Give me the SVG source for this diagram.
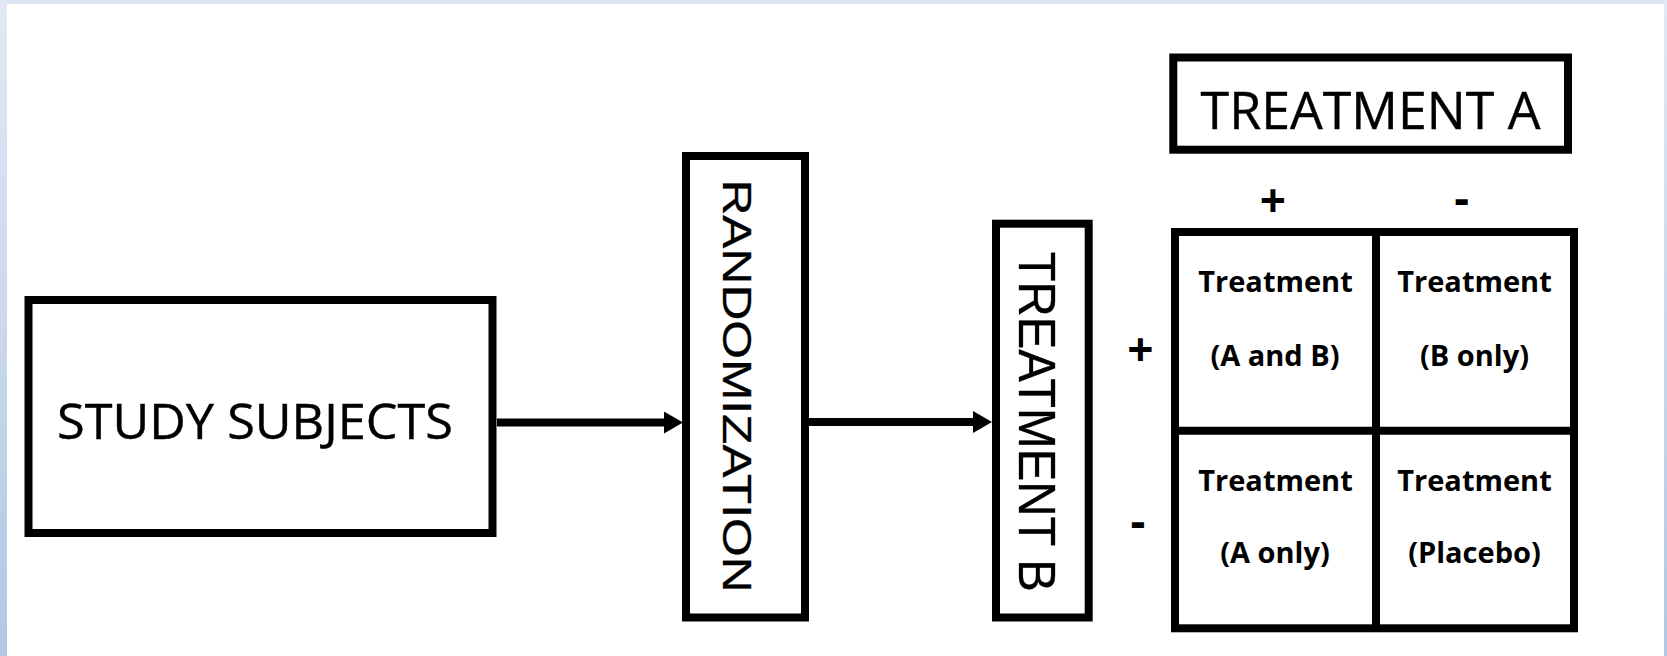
<svg xmlns="http://www.w3.org/2000/svg" width="1667" height="656" viewBox="0 0 1667 656">
  <defs>
    <linearGradient id="edgeShade" x1="0" y1="0" x2="0" y2="1">
      <stop offset="0" stop-color="#e1e9f5"/>
      <stop offset="1" stop-color="#b2c7e3"/>
    </linearGradient>
    <marker id="arrowHead" markerUnits="userSpaceOnUse" markerWidth="20" markerHeight="24" refX="2" refY="11" orient="auto">
      <path d="M0,0 L19,11 L0,22 Z" fill="#000"/>
    </marker>
    <style>
      .box { fill: #fff; stroke: #000; stroke-width: 8; }
      .rule { stroke: #000; stroke-width: 8; fill: none; }
      .conn { stroke: #000; stroke-width: 8; fill: none; marker-end: url(#arrowHead); }
      .title { font-family: "Open Sans", "Liberation Sans", sans-serif; fill: #000; stroke: #000; stroke-width: 0.4; text-anchor: middle; }
      .vtitle { font-family: "Liberation Sans", Arial, sans-serif; fill: #000; stroke: #000; stroke-width: 0.3; text-anchor: middle; }
      .cell { font-family: "Open Sans", "Liberation Sans", sans-serif; font-weight: 700; font-size: 29px; fill: #000; text-anchor: middle; }
      .sign { font-family: "Open Sans", "Liberation Sans", sans-serif; font-weight: 700; font-size: 46px; fill: #000; text-anchor: middle; }
    </style>
  </defs>

  <!-- page background with shaded frame edges -->
  <rect x="0" y="0" width="1667" height="656" fill="#fff"/>
  <g id="page-frame">
    <rect x="0" y="0" width="1667" height="4" fill="#dce6f2"/>
    <rect x="0" y="0" width="7" height="656" fill="url(#edgeShade)"/>
    <rect x="1664" y="0" width="3" height="656" fill="url(#edgeShade)"/>
  </g>

  <!-- arrows between stages -->
  <g id="connectors">
    <line class="conn" x1="497" y1="422.5" x2="666" y2="422.5"/>
    <line class="conn" x1="809" y1="422" x2="975" y2="422"/>
  </g>

  <g id="study-subjects">
    <rect class="box" x="28.5" y="300" width="464" height="233"/>
    <text class="title" x="255" y="439.3" font-size="49" textLength="396" lengthAdjust="spacingAndGlyphs">STUDY SUBJECTS</text>
  </g>

  <g id="randomization">
    <rect class="box" x="686" y="156" width="119" height="461.5"/>
    <text class="vtitle" transform="translate(723 386) rotate(90)" x="0" y="0" font-size="40" textLength="413" lengthAdjust="spacingAndGlyphs">RANDOMIZATION</text>
  </g>

  <g id="treatment-b">
    <rect class="box" x="996" y="223.7" width="92.7" height="393.8"/>
    <text class="vtitle" transform="translate(1018.5 421.7) rotate(90)" x="0" y="0" font-size="51" textLength="340" lengthAdjust="spacingAndGlyphs">TREATMENT B</text>
  </g>

  <g id="treatment-a">
    <rect class="box" x="1173.3" y="57.5" width="394.7" height="92.2"/>
    <text class="title" x="1370.6" y="129" font-size="51" textLength="340" lengthAdjust="spacingAndGlyphs">TREATMENT A</text>
  </g>

  <!-- +/- levels of each factor -->
  <g id="factor-levels">
    <text class="sign" x="1273" y="216.5">+</text>
    <text class="sign" x="1461.7" y="215">-</text>
    <text class="sign" x="1140.5" y="366">+</text>
    <text class="sign" x="1138" y="537.5">-</text>
  </g>

  <!-- 2x2 factorial grid -->
  <g id="treatment-grid">
    <rect class="box" x="1175" y="232" width="399" height="396.3"/>
    <line class="rule" x1="1376" y1="232" x2="1376" y2="628.3"/>
    <line class="rule" x1="1175" y1="430.8" x2="1574" y2="430.8"/>
  </g>

  <g id="cell-a-and-b">
    <text class="cell" x="1275.5" y="291.7">Treatment</text>
    <text class="cell" x="1275" y="365.7">(A and B)</text>
  </g>

  <g id="cell-b-only">
    <text class="cell" x="1474.5" y="291.7">Treatment</text>
    <text class="cell" x="1474.5" y="365.7">(B only)</text>
  </g>

  <g id="cell-a-only">
    <text class="cell" x="1275.5" y="491">Treatment</text>
    <text class="cell" x="1275" y="563.3">(A only)</text>
  </g>

  <g id="cell-placebo">
    <text class="cell" x="1474.5" y="491">Treatment</text>
    <text class="cell" x="1474.5" y="563.3">(Placebo)</text>
  </g>
</svg>
